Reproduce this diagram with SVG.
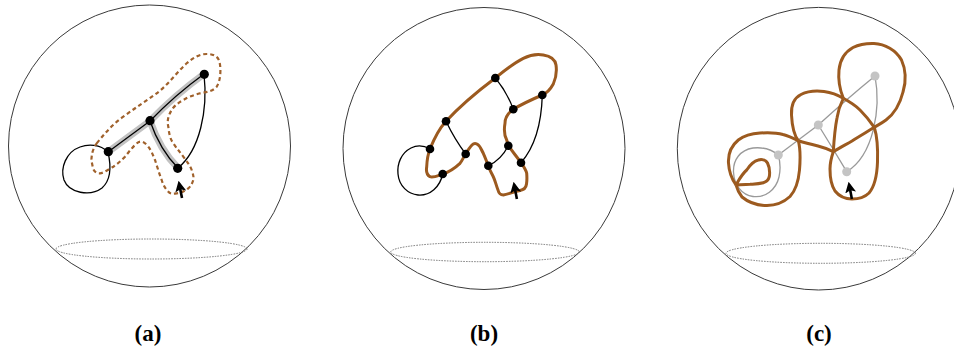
<svg xmlns="http://www.w3.org/2000/svg" width="954" height="352" viewBox="0 0 954 352">
<defs>
<style>
.sphere{fill:none;stroke:#3a3a3a;stroke-width:1}
.equator{fill:none;stroke:#666;stroke-width:0.9;stroke-dasharray:1.5 1.2}
.edge{fill:none;stroke:#000;stroke-width:1.3}
.halo{fill:none;stroke:#c2c2c2;stroke-width:7;stroke-linecap:round}
.dash{fill:none;stroke:#a0612b;stroke-width:2.2;stroke-dasharray:4 3}
.brown{fill:none;stroke:#9c5a1f;stroke-width:3;stroke-linejoin:round}
.gedge{fill:none;stroke:#999;stroke-width:1.3}
.node{fill:#000}
.gnode{fill:#c4c4c4}
.arrow{fill:none;stroke:#000;stroke-width:2.6}
.label{font-family:"Liberation Serif",serif;font-weight:bold;font-size:23px;text-anchor:middle;fill:#000}
</style>
<marker id="ah" viewBox="0 0 10 10" refX="7" refY="5" markerWidth="4.2" markerHeight="4.2" orient="auto" markerUnits="strokeWidth">
<path d="M0,0 L10,5 L0,10 L2,5 Z" fill="#000"/>
</marker>
</defs>

<!-- Panel (a) -->
<g id="panel-a">
<circle class="sphere" cx="149.5" cy="146" r="141"/>
<ellipse class="equator" cx="151.5" cy="249" rx="95.5" ry="10"/>
<g id="a-connectors">
<path class="halo" d="M108,152 L150,121"/>
<path class="halo" d="M150,121 Q175,95 204,74"/>
<path class="halo" d="M150,121 Q160,150 178,168"/>
<path class="edge" d="M108,152 L150,121"/>
<path class="edge" d="M150,121 Q175,95 204,74"/>
<path class="edge" d="M150,121 Q160,150 178,168"/>
<path class="edge" d="M204,74 C208,110 200,150 178,168"/>
<path class="edge" d="M108,152 C100,144 88,144 80,147 C66,152 60,168 64,180 C69,193 90,197 102,188 C111,180 111,165 108,152"/>
<path class="dash" d="M96.7,143.3 C105,133 113,124 123.3,116.7 C135,108 146,101 156.7,93.3 C168,85 177,72 186.7,63.3 C194,57 200,54 206.7,54 C213,54 218,56 219.5,62 C221,68 221,80 216.7,86.7 C212,92 206,92 200,93.3 C194,95 188,97 183.3,100 C178,103 174,106 171.7,110 C168,116 167,121 168.3,126.7 C169,133 170,139 173.3,143.3 C177,149 180,152 183.3,156.7 C187,162 190,165 191.7,170 C193,174 194,177 193.3,180 C192,184 191,186 188.3,188.3 C185,191 181,193 176.7,193.3 C173,194 170,194 168.3,191.7 C165,188 163,185 161.7,180 C159,173 157,166 155,160 C153,155 151,150 148.3,146.7 C146,144 144,142 141.7,141.7 C139,141 137,143 135,145 C131,149 128,153 125,156.7 C121,161 117,164 113.3,166.7 C109,169 104,173 100,173.3 C96,174 93,170 92.7,166.7 C92,163 91,160 91.7,156.7 C92,152 94,147 96.7,143.3 Z"/>
<path class="arrow" d="M182,198 L179.2,184" marker-end="url(#ah)"/>
</g>
<g id="a-nodes">
<circle class="node" cx="108.3" cy="151.7" r="4.6"/>
<circle class="node" cx="150" cy="120.7" r="4.6"/>
<circle class="node" cx="204.3" cy="74.3" r="4.6"/>
<circle class="node" cx="177.7" cy="168.3" r="4.6"/>
</g>
<text class="label" x="148" y="341">(a)</text>
</g>

<!-- Panel (b) -->
<g id="panel-b">
<circle class="sphere" cx="484" cy="148.5" r="141"/>
<ellipse class="equator" cx="485" cy="252" rx="94.3" ry="9.7"/>
<g id="b-connectors">
<path class="edge" d="M495.3,78 Q507,92 513.3,109.3"/>
<path class="edge" d="M542.3,95 Q541,140 521,162.7"/>
<path class="edge" d="M446,121.3 Q455,140 465.7,154"/>
<path class="edge" d="M488.3,165.7 Q501,160 508.3,145.7"/>
<path class="edge" d="M430,149 C423,145 417,145 411,148 C401,153 397,164 398,174 C399,186 408,194 418,195 C430,196 440,187 442.7,174"/>
<path class="brown" d="M430,149 C434,139 439,129 446,121.3 C460,106 478,91 495.3,78 C505,70 514,63 523.3,58.3 C530,55 537,54 543.3,55 C550,56 555,59 556,65 C557,72 556,78 553.3,84 C550,90 547,93 542.3,95 C533,99 522,104 513.3,109.3 C508,113 505,118 505,123.3 C504,129 504,135 506.7,140 L508.3,145.7 C512,151 517,157 521,162.7 C524,167 526,170 526.7,173.3 C527,177 527,181 526.5,184 C526,188 523,190 520,190.5 C514,192 508,194 503.3,195 C500,195 498.7,193 498,190 C496,185 495,180 493.3,176.7 C491,172 489,169 488.3,165.7 C486,160 485,157 483.3,153.3 C481,149 480,146 478.3,145 C476,143 474,143 472,145 C470,147 468,150 465.7,154 C463,158 462,161 460,163.3 C455,168 449,172 442.7,174 C437,176 433,178 430,176.7 C427,175 426,171 426.7,166.7 C427,160 428,154 430,149 Z"/>
<path class="arrow" d="M516.9,199 L514.2,185" marker-end="url(#ah)"/>
</g>
<g id="b-nodes">
<circle class="node" cx="495.3" cy="78" r="4.3"/>
<circle class="node" cx="542.3" cy="95" r="4.3"/>
<circle class="node" cx="513.3" cy="109.3" r="4.3"/>
<circle class="node" cx="446" cy="121.3" r="4.3"/>
<circle class="node" cx="430" cy="149" r="4.3"/>
<circle class="node" cx="465.7" cy="154" r="4.3"/>
<circle class="node" cx="508.3" cy="145.7" r="4.3"/>
<circle class="node" cx="488.3" cy="165.7" r="4.3"/>
<circle class="node" cx="521" cy="162.7" r="4.3"/>
<circle class="node" cx="442.7" cy="174" r="4.3"/>
</g>
<text class="label" x="484" y="341">(b)</text>
</g>

<!-- Panel (c) -->
<g id="panel-c">
<circle class="sphere" cx="818.6" cy="148.7" r="141.3"/>
<ellipse class="equator" cx="820.7" cy="253.3" rx="94.7" ry="10"/>
<g id="c-connectors">
<path class="gedge" d="M778.3,155 L818.3,125"/>
<path class="gedge" d="M818.3,125 Q848,98 875,76"/>
<path class="gedge" d="M818.3,125 Q832,147 846.7,171.7"/>
<path class="gedge" d="M875,76 C881,108 874,155 846.7,171.7"/>
<path class="gedge" d="M778.3,155 C771,149 762,147 753,148 C740,150 733,160 733.5,172 C734,185 742,195 753,196.5 C765,198 776,190 779,177 C781,168 780,161 778.3,155"/>
<path class="brown" d="M736,185 C740,178 742,174 746.7,170 C750,165 754,161 758.3,160 C762,159 766,160 767.5,163 C769.5,167 770,172 769.3,176.7 C768.5,180 766,182 763.3,182.7 C758,184 754,184 750,184.3 C745,184.5 740,184.8 736,185"/>
<path class="brown" d="M736,185 C731,178 729,172 728.5,163 C728,154 731,146 738.3,140 C745,135 752,133.5 760,133 C768,132.5 776,132.5 783,134.5 C789,136 794,138.5 798.3,140.7"/>
<path class="brown" d="M798.3,140.7 C800,147 800.5,158 799.5,170 C798.5,181 796,190 790,196.5 C784,202 776,205.5 767,205.5 C757,205.5 748,202 742,197 C739,193 737,189 736,185"/>
<path class="brown" d="M798.3,140.7 C794,135 792,125 791.5,115 C791,105 794,98 801,94.5 C808,91 816,90.5 824,91.5 C832,92.5 838,95 843.3,98.3"/>
<path class="brown" d="M843.3,98.3 C840,90 838,80 839,70 C840,60 845,52 853,47.5 C860,44 867,43.3 874,43.5 C885,44 896,50 901.5,60 C906,70 906,82 903,92 C900,104 894,114 886,120 C882,123 878,125 874.3,127.3"/>
<path class="brown" d="M843.3,98.3 C850,102 856,106 860,110 C866,116 870,121 874.3,127.3"/>
<path class="brown" d="M843.3,98.3 C840,105 838,111 837,118 C835,128 834,140 833.3,151.7"/>
<path class="brown" d="M874.3,127.3 C865,133 858,137 852,141 C845,145 839,148 833.3,151.7"/>
<path class="brown" d="M874.3,127.3 C877,136 878,148 877.5,162 C877,176 875,186 869,193 C864,198 858,199 852,199 C845,199 839,196 835,191 C831,185 830,177 830,169 C830,163 831.5,157 833.3,151.7"/>
<path class="brown" d="M833.3,151.7 C829,149.5 824,147.5 818,146 C812,144.5 806,143 798.3,140.7"/>
<path class="arrow" d="M851.9,199 L849.2,185" marker-end="url(#ah)"/>
</g>
<g id="c-nodes">
<circle class="gnode" cx="875" cy="76" r="4.5"/>
<circle class="gnode" cx="818.3" cy="125" r="4.5"/>
<circle class="gnode" cx="778.3" cy="155" r="4.5"/>
<circle class="gnode" cx="846.7" cy="171.7" r="4.5"/>
</g>
<text class="label" x="819" y="341">(c)</text>
</g>
</svg>
